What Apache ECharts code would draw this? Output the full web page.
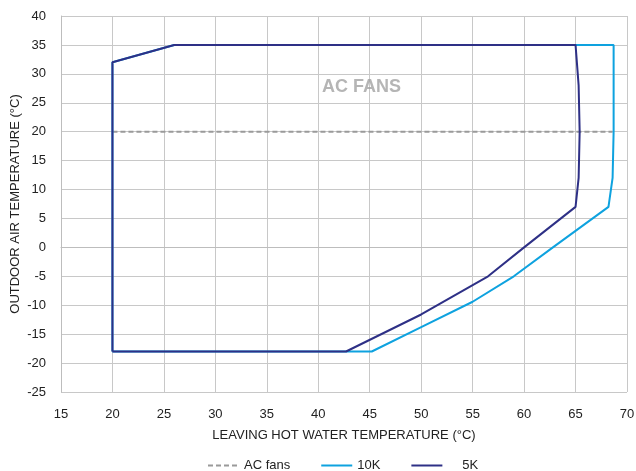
<!DOCTYPE html>
<html><head><meta charset="utf-8">
<script src="https://cdn.jsdelivr.net/npm/echarts@6/dist/echarts.min.js"></script>
<style>html,body{margin:0;padding:0;background:#fff}#c{width:636px;height:471px}</style>
</head><body><div id="c"></div>
<script>
const xTicks = [15,20,25,30,35,40,45,50,55,60,65,70];
const yTicks = [-25,-20,-15,-10,-5,0,5,10,15,20,25,30,35,40];
const acFans = [[20,20],[68.6,20]];
const k10 = [[20,-18],[45.2,-18],[50,-13.8],[55,-9.4],[59,-5],[62.8,0],[68.2,7],[68.6,12],[68.7,20],[68.7,35],[26,35],[20,32],[20,-18]];
const k5 = [[20,-18],[42.7,-18],[50,-11.6],[56.5,-5],[60,0],[65,7],[65.3,12],[65.4,20],[65.3,28],[65,35],[26,35],[20,32],[20,-18]];
const note = {x:44.2, y:27.8, text:'AC FANS'};

const font = 'Liberation Sans, Arial, sans-serif';
const chart = echarts.init(document.getElementById('c'));
chart.setOption({
  animation:false,
  textStyle:{fontFamily:font},
  grid:{left:61,right:9,top:16,bottom:79,containLabel:false,outerBoundsMode:'none'},
  xAxis:{type:'value',min:15,max:70,interval:5,
    name:'LEAVING HOT WATER TEMPERATURE (°C)',nameLocation:'middle',nameGap:37,nameMoveOverlap:false,
    nameTextStyle:{color:'#222',fontSize:13,fontFamily:font},
    axisLine:{show:true,lineStyle:{color:'#bdbdbd'}},axisTick:{show:false},
    axisLabel:{color:'#222',fontSize:13,margin:16,fontFamily:font,
      formatter:v=>xTicks.includes(v)?String(v):''},
    splitLine:{show:true,lineStyle:{color:'#c8c8c8',width:1}}},
  yAxis:{type:'value',min:-25,max:40,interval:5,
    name:'OUTDOOR AIR TEMPERATURE (°C)',nameLocation:'middle',nameGap:39,nameRotate:90,nameMoveOverlap:false,
    nameTextStyle:{color:'#222',fontSize:13,fontFamily:font},
    axisLine:{show:true,lineStyle:{color:'#bdbdbd'}},axisTick:{show:false},
    axisLabel:{color:'#222',fontSize:13,margin:15,fontFamily:font,
      formatter:v=>yTicks.includes(v)?String(v):''},
    splitLine:{show:true,lineStyle:{color:'#c8c8c8',width:1}}},
  legend:{top:454,left:202,itemWidth:31,itemHeight:10,itemGap:30,
    itemStyle:{opacity:0},
    textStyle:{color:'#222',fontSize:13,fontFamily:font},
    data:['AC fans','10K',{name:'5K',textStyle:{padding:[0,0,0,15]}}]},
  series:[
    {name:'AC fans',type:'line',data:acFans,showSymbol:false,symbol:'none',
      lineStyle:{color:'#9a9a9a',width:2,type:[5,3]},itemStyle:{color:'#9a9a9a'}},
    {name:'10K',type:'line',data:k10,showSymbol:false,symbol:'none',
      lineStyle:{color:'#0ea2df',width:2},itemStyle:{color:'#0ea2df'}},
    {name:'5K',type:'line',data:k5,showSymbol:false,symbol:'none',
      lineStyle:{color:'#2e3086',width:2},itemStyle:{color:'#2e3086'}},
    {name:'note',type:'scatter',data:[[note.x,note.y]],symbolSize:2,silent:true,
      itemStyle:{color:'rgba(255,255,255,0)'},z:10,
      label:{show:true,position:'inside',formatter:note.text,color:'#a2a2a2',fontSize:18,fontWeight:'bold',fontFamily:font}}
  ]
});
</script></body></html>
